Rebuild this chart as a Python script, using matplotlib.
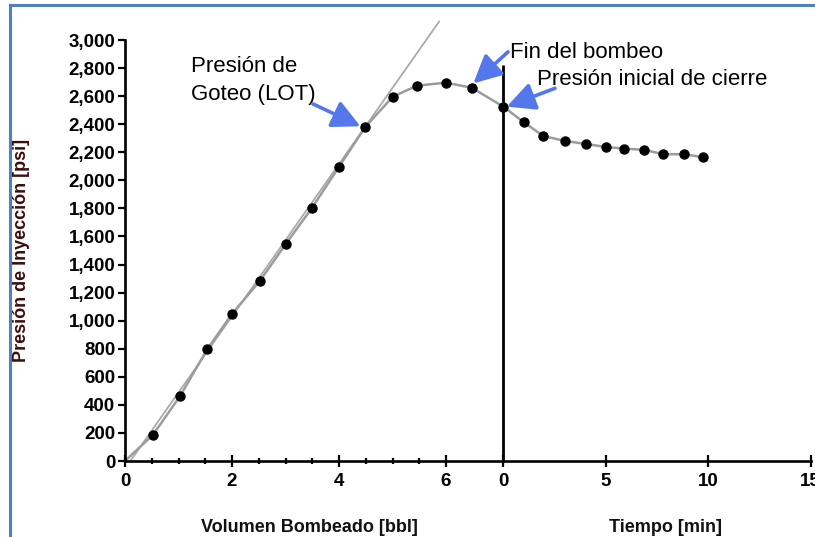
import matplotlib
matplotlib.use("Agg")
import matplotlib.pyplot as plt
from matplotlib.lines import Line2D
from matplotlib.patches import ConnectionPatch
from matplotlib.ticker import FixedLocator, FuncFormatter

plt.rcParams["font.family"] = ["Liberation Sans", "DejaVu Sans"]

# pumping phase: volume pumped [bbl] vs injection pressure [psi]
pump_vol = [0.52, 1.03, 1.54, 2.0, 2.52, 3.0, 3.49, 4.0, 4.49, 5.0, 5.45, 5.99, 6.48]
pump_p = [185, 463, 798, 1048, 1283, 1544, 1801, 2097, 2380, 2594, 2674, 2696, 2660]
curve_start = (0.0, 0.0)

# straight-line trend used to pick the LOT
lot_line_vol = [0.1, 5.87]
lot_line_p = [0, 3131]

# shut-in phase: time [min] vs pressure [psi]
shut_t = [0.0, 1.01, 1.95, 3.0, 4.02, 5.0, 5.9, 6.88, 7.81, 8.83, 9.76]
shut_p = [2525, 2413, 2316, 2281, 2259, 2238, 2226, 2217, 2186, 2186, 2164]
shut_line_top = 2822

vol_ticks = [0, 2, 4, 6]
vol_minor = [0.5, 1, 1.5, 2.5, 3, 3.5, 4.5, 5, 5.5]
time_ticks = [0, 5, 10, 15]
p_ticks = list(range(0, 3001, 200))

GRAY = "#9c9c9c"
BLUE = "#5577ec"
W, H = 815, 537

fig = plt.figure(figsize=(8.15, 5.37), dpi=100)
ax1 = fig.add_axes([125 / W, 1 - 461 / H, (503.3 - 125) / W, 421 / H])
ax2 = fig.add_axes([503.3 / W, 1 - 461 / H, (810.7 - 503.3) / W, 421 / H], sharey=ax1)

for ax in (ax1, ax2):
    ax.patch.set_alpha(0)
    for s in ("top", "right"):
        ax.spines[s].set_visible(False)
    ax.spines["bottom"].set_linewidth(1.9)
ax1.spines["left"].set_linewidth(1.9)
ax2.spines["left"].set_visible(False)

# pumping curve + LOT straight line
ax1.plot(lot_line_vol, lot_line_p, color="#aaaaaa", lw=1.3, clip_on=False, zorder=2)
ax1.plot([curve_start[0]] + pump_vol, [curve_start[1]] + pump_p, color=GRAY, lw=1.8, zorder=2)
ax1.plot(pump_vol, pump_p, "o", color="black", ms=6.5, zorder=3, clip_on=False)

# shut-in curve
ax2.plot(shut_t, shut_p, color=GRAY, lw=1.8, zorder=2)
ax2.plot(shut_t, shut_p, "o", color="black", ms=6.5, zorder=3, clip_on=False)
ax2.vlines(0, 0, shut_line_top, color="black", lw=2, clip_on=False, zorder=2)

con = ConnectionPatch(xyA=(pump_vol[-1], pump_p[-1]), coordsA=ax1.transData,
                      xyB=(shut_t[0], shut_p[0]), coordsB=ax2.transData,
                      color=GRAY, lw=1.8, zorder=-1)
fig.add_artist(con)

ax1.set_ylim(0, 3000)
ax1.set_xlim(0, 7.07)
ax2.set_xlim(0, 15)

ax1.set_yticks(p_ticks)
ax1.yaxis.set_major_formatter(FuncFormatter(lambda v, _: f"{int(v):,}"))
ax1.tick_params(axis="y", direction="out", length=5, width=1.6, pad=2, labelsize=13.5)
ax1.set_xticks(vol_ticks)
ax1.xaxis.set_minor_locator(FixedLocator(vol_minor))
ax2.set_xticks(time_ticks)
for ax in (ax1, ax2):
    ax.tick_params(axis="x", which="major", direction="inout", length=9, width=1.6,
                   pad=4, labelsize=13.5)
    ax.tick_params(axis="x", which="minor", direction="inout", length=4, width=1.6)
    for lab in ax.get_xticklabels() + ax.get_yticklabels():
        lab.set_fontweight("bold")
ax2.tick_params(axis="y", left=False, labelleft=False)

ax1.set_ylabel("Presión de Inyección [psi]", fontsize=13, fontweight="bold", color="#3d0c0c")
ax1.yaxis.set_label_coords(-0.251, 0.50)
ax1.set_xlabel("Volumen Bombeado [bbl]", fontsize=13, fontweight="bold", color="#111111")
ax1.xaxis.set_label_coords(0.487, -0.138)
ax2.set_xlabel("Tiempo [min]", fontsize=13, fontweight="bold", color="#111111")
ax2.xaxis.set_label_coords(0.529, -0.138)

# annotations
arrow = dict(arrowstyle="-|>,head_length=1.7,head_width=0.85",
             mutation_scale=10, lw=2.6, color=BLUE, shrinkA=0, shrinkB=0)
ax1.text(1.24, 2774, "Presión de", fontsize=16, va="baseline", ha="left")
ax1.text(1.24, 2570, "Goteo (LOT)", fontsize=16, va="baseline", ha="left")
ax1.annotate("", xy=(4.40, 2385), xytext=(3.51, 2545), arrowprops=arrow)

ax2.text(0.33, 2872, "Fin del bombeo", fontsize=16, va="baseline", ha="left")
ax2.annotate("", xy=(6.51, 2691), xycoords=ax1.transData, xytext=(0.23, 2915),
             textcoords="data", annotation_clip=False, arrowprops=arrow)

ax2.text(1.63, 2679, "Presión inicial de cierre", fontsize=16, va="baseline", ha="left")
ax2.annotate("", xy=(0.17, 2525), xytext=(2.52, 2656), annotation_clip=False,
             arrowprops=arrow)

# blue frame (only left and top edges are inside the picture)
fig.add_artist(Line2D([9.5 / W, 9.5 / W], [0, 1 - 5 / H], color="#4f81bd", lw=2.2))
fig.add_artist(Line2D([9.5 / W, 1], [1 - 5 / H, 1 - 5 / H], color="#4f81bd", lw=2.2))

fig.savefig("out.png", dpi=100, facecolor="white")
